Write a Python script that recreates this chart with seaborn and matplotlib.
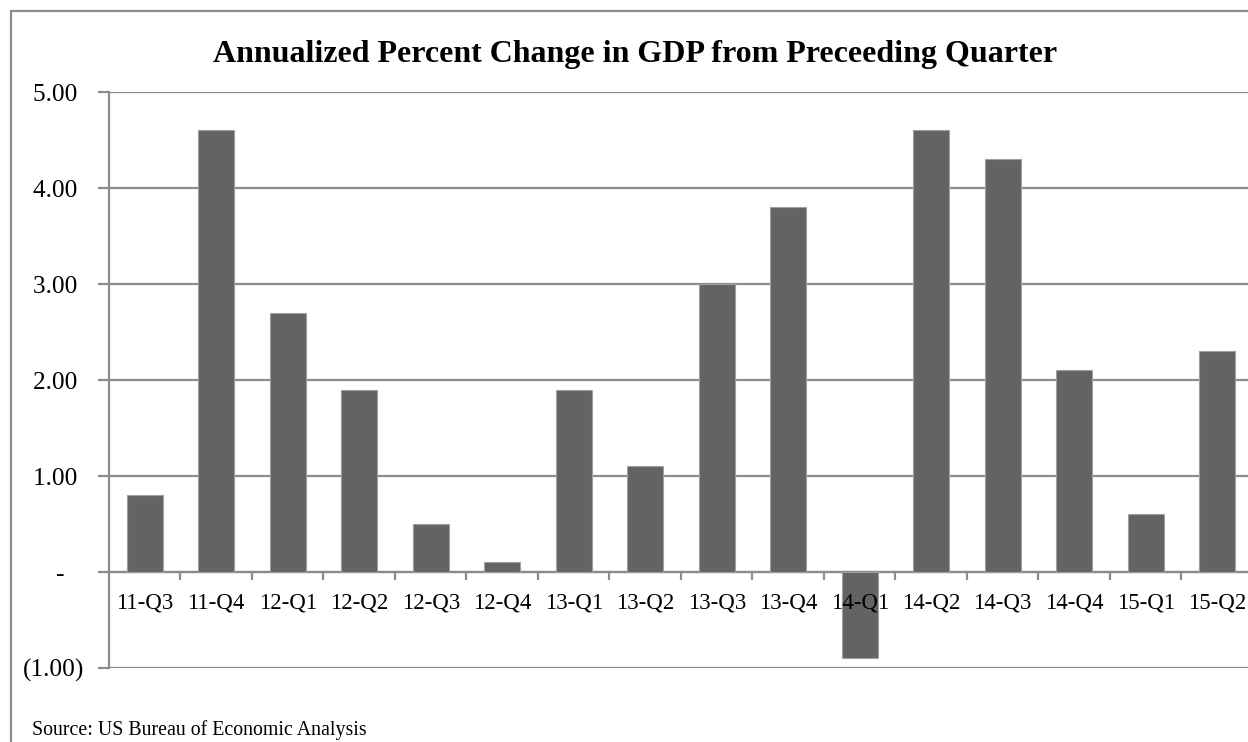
import matplotlib
matplotlib.use("Agg")
import matplotlib.pyplot as plt
from matplotlib.patches import Rectangle
from matplotlib.ticker import FixedLocator
import seaborn as sns
import pandas as pd

quarters = ["11-Q3", "11-Q4", "12-Q1", "12-Q2", "12-Q3", "12-Q4", "13-Q1", "13-Q2",
            "13-Q3", "13-Q4", "14-Q1", "14-Q2", "14-Q3", "14-Q4", "15-Q1", "15-Q2"]
gdp_change = [0.8, 4.6, 2.7, 1.9, 0.5, 0.1, 1.9, 1.1,
              3.0, 3.8, -0.9, 4.6, 4.3, 2.1, 0.6, 2.3]
y_ticks = [-1, 0, 1, 2, 3, 4, 5]
y_tick_labels = ["(1.00)", "-   ", "1.00 ", "2.00 ", "3.00 ", "4.00 ", "5.00 "]
title = "Annualized Percent Change in GDP from Preceeding Quarter"
source = "Source: US Bureau of Economic Analysis"

sns.set_theme(style="white")
plt.rcParams["font.family"] = ["Liberation Serif", "DejaVu Serif"]

GRID = "#8c8c8c"
BAR = "#636363"

df = pd.DataFrame({"quarter": quarters, "change": gdp_change})

fig = plt.figure(figsize=(12.48, 7.42), dpi=100)
ax = fig.add_axes([0.0873, 0.0997, 0.9167, 0.7763])

# horizontal gridlines behind the bars
for yv in y_ticks:
    ax.axhline(yv, color=GRID, lw=1.6, zorder=0.5)

sns.barplot(data=df, x="quarter", y="change", order=quarters, color=BAR,
            saturation=1, width=0.5, edgecolor="#a0a0a0", linewidth=0.8,
            ax=ax, zorder=1)

ax.set_xlim(-0.5, len(quarters) - 0.5)
ax.set_ylim(y_ticks[0], y_ticks[-1])
ax.set_xlabel("")
ax.set_ylabel("")

# axis decorations drawn above the bars so category labels stay readable
ax.set_axisbelow(False)
for side in ["top", "right"]:
    ax.spines[side].set_visible(False)
ax.spines["left"].set_color(GRID)
ax.spines["left"].set_linewidth(1.6)
ax.spines["left"].set_zorder(0.6)
ax.spines["bottom"].set_position(("data", 0))
ax.spines["bottom"].set_color(GRID)
ax.spines["bottom"].set_linewidth(1.6)
ax.spines["bottom"].set_zorder(0.6)

ax.set_yticks(y_ticks)
ax.set_yticklabels(y_tick_labels)
ax.tick_params(axis="y", which="major", direction="out", length=8, width=1.6,
               color=GRID, pad=10, labelsize=18.3, labelcolor="black", left=True)

ax.set_xticks(range(len(quarters)))
ax.set_xticklabels(quarters)
ax.xaxis.set_minor_locator(FixedLocator([i + 0.5 for i in range(len(quarters) - 1)]))
ax.tick_params(axis="x", which="major", length=0, pad=15, labelsize=16.5, labelcolor="black")
ax.tick_params(axis="x", which="minor", direction="out", length=6, width=1.6,
               color=GRID, bottom=True)

fig.text(0.509, 0.926, title, ha="center", va="center", fontsize=23,
         fontweight="bold", color="black")
fig.text(0.0256, 0.003, source, ha="left", va="bottom", fontsize=14.3, color="black")

# chart frame
fig.add_artist(Rectangle((0.0088, -0.2), 1.2, 0.985 + 0.2, transform=fig.transFigure,
                         fill=False, edgecolor=GRID, linewidth=1.6))

fig.savefig("out.png", dpi=100)
